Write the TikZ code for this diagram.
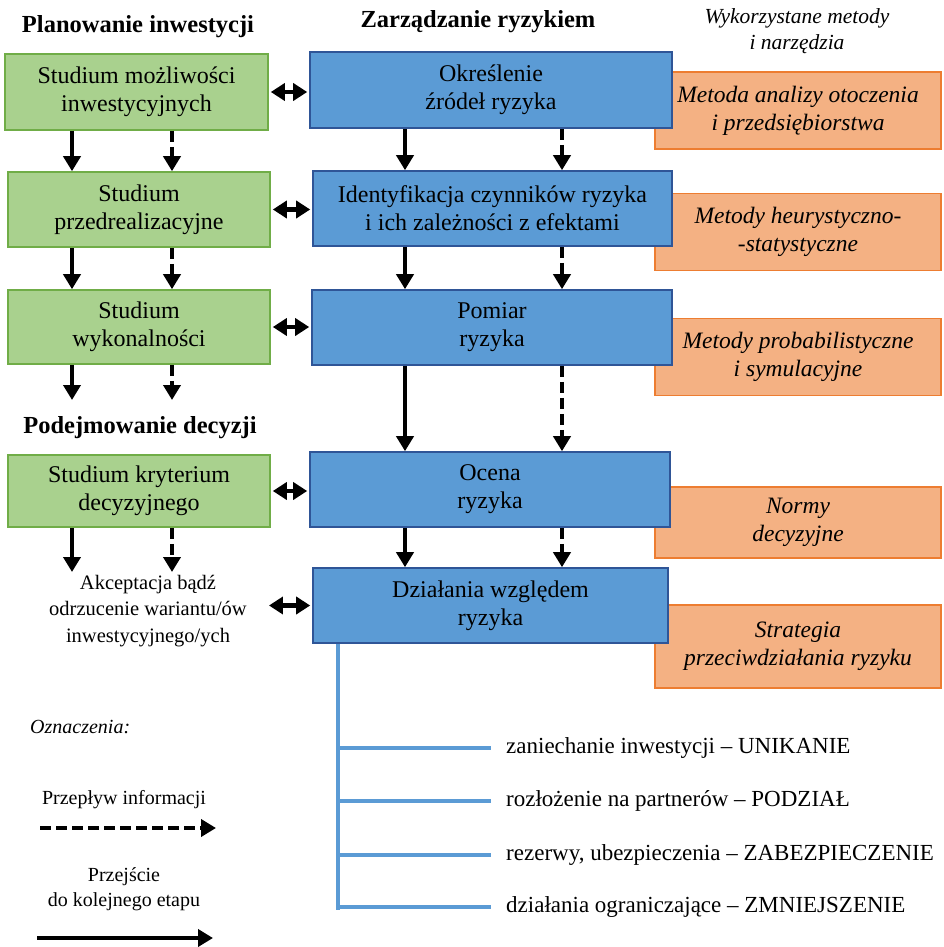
\documentclass[tikz,border=0pt]{standalone}
\usepackage{fontspec}
\setmainfont{Liberation Serif}
\usetikzlibrary{arrows.meta}
\definecolor{gfill}{HTML}{A9D18E}
\definecolor{gdraw}{HTML}{70AD47}
\definecolor{bfill}{HTML}{5B9BD5}
\definecolor{bdraw}{HTML}{2F5597}
\definecolor{ofill}{HTML}{F4B183}
\definecolor{odraw}{HTML}{ED7D31}
\definecolor{treecol}{HTML}{5B9BD5}
\tikzset{
  x=1pt, y={(0pt,-1pt)},
  boxtxt/.style={font=\fontsize{24}{28}\selectfont, align=center, inner sep=0pt},
  gbox/.style={boxtxt, draw=gdraw, fill=gfill, line width=1.6pt},
  bbox/.style={boxtxt, draw=bdraw, fill=bfill, line width=1.6pt},
  obox/.style={boxtxt, draw=odraw, fill=ofill, line width=1.6pt, font=\fontsize{23.5}{28}\selectfont\itshape},
  heading/.style={font=\fontsize{24.5}{28}\selectfont\bfseries, inner sep=0pt},
  solidarr/.style={line width=4.5pt, -{Triangle[length=15pt,width=17pt]}},
  dasharr/.style={solidarr, dash pattern=on 11pt off 5pt},
  dblarr/.style={line width=4.5pt, {Triangle[length=14pt,width=17pt]}-{Triangle[length=14pt,width=17pt]}, shorten <=2pt, shorten >=2pt},
  treeline/.style={draw=treecol, line width=4pt},
  listtxt/.style={font=\fontsize{23}{26}\selectfont, anchor=west, inner sep=0pt},
  legtxt/.style={font=\fontsize{20}{25}\selectfont, align=center, inner sep=0pt}
}
\begin{document}
\begin{tikzpicture}
\useasboundingbox (0,0) rectangle (943,947);

% headings
\node[heading] (h1) at (138,27) {Planowanie inwestycji};
\node[heading] (h2) at (478,22) {Zarządzanie ryzykiem};
\node[heading] (h3) at (140,428) {Podejmowanie decyzji};
\node[font=\fontsize{21.5}{26}\selectfont\itshape, align=center, inner sep=0pt] (h4) at (797,31) {Wykorzystane metody\\i narzędzia};

% orange boxes (behind blue)
\node[obox, minimum width=286pt, minimum height=77pt] (o1) at (798,110.5) {Metoda analizy otoczenia\\i przedsiębiorstwa};
\node[obox, minimum width=286pt, minimum height=77pt] (o2) at (798,232) {Metody heurystyczno-\\-statystyczne};
\node[obox, minimum width=286pt, minimum height=77pt] (o3) at (798,357) {Metody probabilistyczne\\i symulacyjne};
\node[obox, minimum width=286pt, minimum height=71pt] (o4) at (798,522.5) {Normy\\decyzyjne};
\node[obox, minimum width=286pt, minimum height=83pt] (o5) at (798,646.5) {Strategia\\przeciwdziałania ryzyku};

% green boxes
\node[gbox, minimum width=263pt, minimum height=76pt] (g1) at (136.5,92) {Studium możliwości\\inwestycyjnych};
\node[gbox, minimum width=262pt, minimum height=75pt] (g2) at (139,209.5) {Studium\\przedrealizacyjne};
\node[gbox, minimum width=262pt, minimum height=74pt] (g3) at (139,327) {Studium\\wykonalności};
\node[gbox, minimum width=262pt, minimum height=72pt] (g4) at (139,491) {Studium kryterium\\decyzyjnego};

% blue boxes
\node[bbox, minimum width=362pt, minimum height=76pt] (b1) at (491,90) {Określenie\\źródeł ryzyka};
\node[bbox, minimum width=359pt, minimum height=75pt] (b2) at (492.5,208.5) {Identyfikacja czynników ryzyka\\i ich zależności z efektami};
\node[bbox, minimum width=360pt, minimum height=75pt] (b3) at (492,327.5) {Pomiar\\ryzyka};
\node[bbox, minimum width=360pt, minimum height=75pt] (b4) at (490,489.5) {Ocena\\ryzyka};
\node[bbox, minimum width=355pt, minimum height=75pt] (b5) at (490.5,605.5) {Działania względem\\ryzyka};

% decision text
\node[font=\fontsize{20.5}{26.5}\selectfont, align=center, inner sep=3pt, anchor=north] (a) at (148,572) {Akceptacja bądź\\odrzucenie wariantu/ów\\inwestycyjnego/ych};

% column x positions
\coordinate (gs) at (72,0);
\coordinate (gd) at (172,0);
\coordinate (bs) at (405,0);
\coordinate (bd) at (562,0);

% vertical arrows green
\draw[solidarr] (g1.south -| gs) -- (g2.north -| gs);
\draw[dasharr] (g1.south -| gd) -- (g2.north -| gd);
\draw[solidarr] (g2.south -| gs) -- (g3.north -| gs);
\draw[dasharr] (g2.south -| gd) -- (g3.north -| gd);
\coordinate (g3e) at (0,400);
\draw[solidarr] (g3.south -| gs) -- (g3e -| gs);
\draw[dasharr] (g3.south -| gd) -- (g3e -| gd);
\draw[solidarr] (g4.south -| gs) -- (a.north -| gs);
\draw[dasharr] (g4.south -| gd) -- (a.north -| gd);

% vertical arrows blue
\draw[solidarr] (b1.south -| bs) -- (b2.north -| bs);
\draw[dasharr] (b1.south -| bd) -- (b2.north -| bd);
\draw[solidarr] (b2.south -| bs) -- (b3.north -| bs);
\draw[dasharr] (b2.south -| bd) -- (b3.north -| bd);
\draw[solidarr] (b3.south -| bs) -- (b4.north -| bs);
\draw[dasharr] (b3.south -| bd) -- (b4.north -| bd);
\draw[solidarr] (b4.south -| bs) -- (b5.north -| bs);
\draw[dasharr] (b4.south -| bd) -- (b5.north -| bd);

% horizontal double arrows
\draw[dblarr] (g1.east) -- (g1.east -| b1.west);
\draw[dblarr] (g2.east) -- (g2.east -| b2.west);
\draw[dblarr] (g3.east) -- (g3.east -| b3.west);
\draw[dblarr] (g4.east) -- (g4.east -| b4.west);
\draw[dblarr] ([xshift=17pt]a.east |- b5.west) -- (b5.west);

% strategies tree
\node[listtxt] (l1) at (506,748) {zaniechanie inwestycji – UNIKANIE};
\node[listtxt] (l2) at (506,801) {rozłożenie na partnerów – PODZIAŁ};
\node[listtxt] (l3) at (506,855) {rezerwy, ubezpieczenia – ZABEZPIECZENIE};
\node[listtxt] (l4) at (506,907) {działania ograniczające – ZMNIEJSZENIE};
\coordinate (t0) at (338,0);
\coordinate (tend) at (338,910);
\draw[treeline] (b5.south -| t0) -- (tend);
\draw[treeline] (l1.west -| t0) -- ([xshift=-15pt]l1.west);
\draw[treeline] (l2.west -| t0) -- ([xshift=-15pt]l2.west);
\draw[treeline] (l3.west -| t0) -- ([xshift=-15pt]l3.west);
\draw[treeline] (l4.west -| t0) -- ([xshift=-15pt]l4.west);

% legend
\node[legtxt, font=\fontsize{20}{25}\selectfont\itshape, anchor=west] (leg) at (30,727) {Oznaczenia:};
\node[legtxt] (lp1) at (124,800) {Przepływ informacji};
\node[legtxt] (lp2) at (124,889) {Przejście\\do kolejnego etapu};
\coordinate (d1) at (40,828);
\coordinate (d2) at (216,828);
\coordinate (s1) at (37,938);
\coordinate (s2) at (213,938);
\draw[dasharr] (d1) -- (d2);
\draw[solidarr] (s1) -- (s2);
\end{tikzpicture}
\end{document}
